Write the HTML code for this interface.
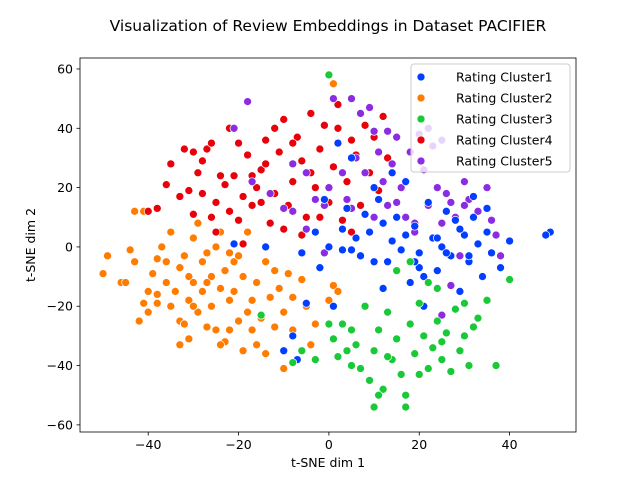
<!DOCTYPE html>
<html><head><meta charset="utf-8">
<style>
html,body{margin:0;padding:0;background:#fff;}
svg{display:block;font-family:"DejaVu Sans","Liberation Sans",sans-serif;}
</style></head>
<body>
<svg id="chart" width="640" height="480" viewBox="0 0 640 480">
<rect x="0" y="0" width="640" height="480" fill="#fff"/>
<text x="328" y="31" text-anchor="middle" font-size="15.5" fill="#000">Visualization of Review Embeddings in Dataset PACIFIER</text>
<g id="plot"></g>
</svg>
<script>
const xTicks=[-40,-20,0,20,40];
const yTicks=[-60,-40,-20,0,20,40,60];
const seriesNames=["Rating Cluster1","Rating Cluster2","Rating Cluster3","Rating Cluster4","Rating Cluster5"];
const seriesColors=["#023eff","#ff7c00","#1ac938","#e8000b","#8b2be2"];
const cluster2=[[-50,-9],[-49,-3],[-46,-12],[-45,-12],[-44,-1],[-43,-5],[-42,-25],[-41,-19],[-40,-22],[-40,-15],[-39,-9],[-38,-4],[-38,-16],[-37,0],[-36,-5],[-36,-12],[-35,-20],[-35,5],[-34,-15],[-33,-25],[-33,-7],[-32,-26],[-32,-3],[-31,-10],[-31,-18],[-30,-12],[-30,3],[-29,-22],[-29,8],[-28,-5],[-28,-15],[-27,-27],[-27,-2],[-26,-10],[-26,-20],[-25,-28],[-25,0],[-24,-14],[-24,5],[-23,-32],[-23,-8],[-22,-18],[-22,-28],[-21,-5],[-21,-15],[-20,-25],[-20,-3],[-19,-35],[-19,-10],[-18,-22],[-18,5],[-17,-18],[-17,-28],[-16,-12],[-16,-33],[-15,-24],[-14,-36],[-14,-5],[-13,-17],[-12,-27],[-12,-8],[-11,-14],[-10,-41],[-10,-22],[-9,-9],[-8,-17],[-8,-28],[-7,-38],[-6,-11],[-5,-20],[-4,-33],[-3,-26],[0,-18],[1,-13],[2,-15],[1,55],[-43,12],[-41,12],[-38,-19],[-33,-33],[-30,-20],[-24,-33],[-27,-12],[-22,-2],[-31,-31]];
const cluster4=[[-40,12],[-38,13],[-36,21],[-33,17],[-32,33],[-31,19],[-30,11],[-29,25],[-28,29],[-27,33],[-26,35],[-25,15],[-24,24],[-23,21],[-22,40],[-21,24],[-20,9],[-19,17],[-18,31],[-17,14],[-16,20],[-15,26],[-14,36],[-13,8],[-12,18],[-11,32],[-10,43],[-9,14],[-8,22],[-7,37],[-6,29],[-5,10],[-4,45],[-3,20],[-2,33],[-1,41],[0,15],[1,27],[2,48],[3,9],[4,22],[5,36],[6,31],[7,14],[8,41],[9,25],[10,37],[11,19],[12,44],[13,30],[-35,28],[-30,32],[-26,10],[-20,35],[-15,15],[-12,40],[-10,6],[-6,4],[-2,10],[-22,12],[-17,24],[-8,35],[-4,25],[2,40],[-25,5],[-19,1],[-14,28],[-28,18],[5,5]];
const cluster5=[[-18,49],[-21,40],[-17,22],[-13,18],[-10,13],[-8,28],[-5,25],[-3,16],[-1,14],[0,20],[1,50],[2,35],[3,25],[4,16],[5,13],[6,30],[7,45],[8,25],[9,47],[10,39],[11,32],[12,22],[13,14],[14,28],[15,37],[16,20],[17,10],[18,32],[19,5],[20,38],[21,26],[22,14],[23,34],[24,20],[25,8],[26,18],[27,15],[28,10],[29,-3],[30,22],[31,16],[33,12],[35,20],[36,9],[37,4],[38,-3],[25,-23],[27,-13],[-5,6],[-8,12],[5,50],[13,39],[15,15],[19,8],[22,40],[25,36],[-1,-2],[10,10],[30,14]];
const cluster1=[[-8,-30],[-7,-38],[-5,-19],[-6,-2],[-3,5],[-2,-7],[0,0],[2,35],[3,-1],[4,13],[5,-1],[6,3],[7,-3],[8,11],[9,5],[10,-5],[11,16],[12,8],[13,-5],[14,2],[15,10],[16,-1],[17,22],[18,-12],[19,7],[20,-2],[21,-10],[22,15],[23,3],[24,-8],[25,0],[26,12],[27,-3],[28,9],[29,-15],[30,4],[31,-5],[32,10],[33,1],[34,-10],[35,5],[36,-2],[38,-7],[40,2],[49,5],[48,4],[-21,1],[-14,0],[1,-20],[5,30],[12,-14],[20,-7],[26,-2],[32,17],[35,13],[24,3],[17,4],[10,20],[21,-20],[29,6],[3,6],[-10,-35],[-1,16],[14,25],[19,-5],[31,-3]];
const cluster3=[[0,58],[-8,-39],[-6,-35],[-3,-38],[0,-26],[1,-31],[2,-37],[3,-26],[4,-35],[5,-28],[6,-33],[7,-41],[8,-20],[9,-45],[10,-35],[11,-28],[12,-48],[13,-22],[14,-38],[15,-31],[16,-43],[17,-50],[18,-26],[19,-36],[20,-19],[21,-30],[22,-41],[23,-34],[24,-25],[25,-38],[26,-29],[27,-42],[28,-21],[29,-35],[30,-30],[31,-40],[32,-27],[33,-24],[35,-18],[37,-40],[40,-11],[10,-54],[17,-54],[13,-37],[20,-43],[25,-32],[11,-50],[-15,-23],[5,-40],[22,-12],[30,-19],[18,-5],[24,-14],[15,-8]];

const L=80,R=576,T=58,B=432;
const xMin=-55.1,xMax=54.7,yMin=-62.4,yMax=63.7;
const sx=v=>L+(v-xMin)/(xMax-xMin)*(R-L);
const sy=v=>B-(v-yMin)/(yMax-yMin)*(B-T);
const NS="http://www.w3.org/2000/svg";
const g=document.getElementById('plot');
function mk(tag,attrs,parent){const e=document.createElementNS(NS,tag);for(const k in attrs)e.setAttribute(k,attrs[k]);(parent||g).appendChild(e);return e;}

// axes box
const frame=mk('rect',{x:L,y:T,width:R-L,height:B-T,fill:'none',stroke:'#000','stroke-width':0.8});



const gx=mk('g',{});


xTicks.forEach(t=>{
  mk('line',{x1:sx(t),x2:sx(t),y1:B,y2:B+3.5,stroke:'#000','stroke-width':0.8},gx);
  const tx=mk('text',{x:sx(t),y:B+17,'text-anchor':'middle','font-size':12.5,fill:'#000'},gx);
  tx.textContent=(t<0?'\u2212'+(-t):t);
  
  
});
const gy=mk('g',{});


yTicks.forEach(t=>{
  mk('line',{x1:L-3.5,x2:L,y1:sy(t),y2:sy(t),stroke:'#000','stroke-width':0.8},gy);
  const ty=mk('text',{x:L-7,y:sy(t)+4.5,'text-anchor':'end','font-size':12.5,fill:'#000'},gy);
  ty.textContent=(t<0?'\u2212'+(-t):t);
  
  
});
const xl=mk('text',{x:(L+R)/2,y:467,'text-anchor':'middle','font-size':12.5,fill:'#000'});
xl.textContent='t-SNE dim 1';


const yl=mk('text',{x:0,y:0,'text-anchor':'middle','font-size':12.5,fill:'#000',transform:`translate(35,${(T+B)/2}) rotate(-90)`});
yl.textContent='t-SNE dim 2';



const order=[[1,cluster2],[3,cluster4],[4,cluster5],[0,cluster1],[2,cluster3]];
order.forEach(([ci,pts])=>{
  const sg=mk('g',{});
  
  
  pts.forEach(p=>{
    const c=mk('circle',{cx:sx(p[0]),cy:sy(p[1]),r:4,fill:seriesColors[ci],stroke:'#fff','stroke-width':0.7},sg);
    
    
  });
});

// legend
const lg=mk('g',{});


mk('rect',{x:411,y:64,width:159,height:108,rx:3,fill:'#fff','fill-opacity':0.8,stroke:'#ccc','stroke-width':1},lg);
seriesNames.forEach((n,i)=>{
  const y=77+i*21;
  const e=mk('g',{},lg);
  
  
  mk('circle',{cx:421,cy:y,r:4,fill:seriesColors[i],stroke:'#fff','stroke-width':0.7},e);
  const t=mk('text',{x:456,y:y+4.5,'font-size':12.5,fill:'#000'},e);
  t.textContent=n;
});
</script>
</body></html>
